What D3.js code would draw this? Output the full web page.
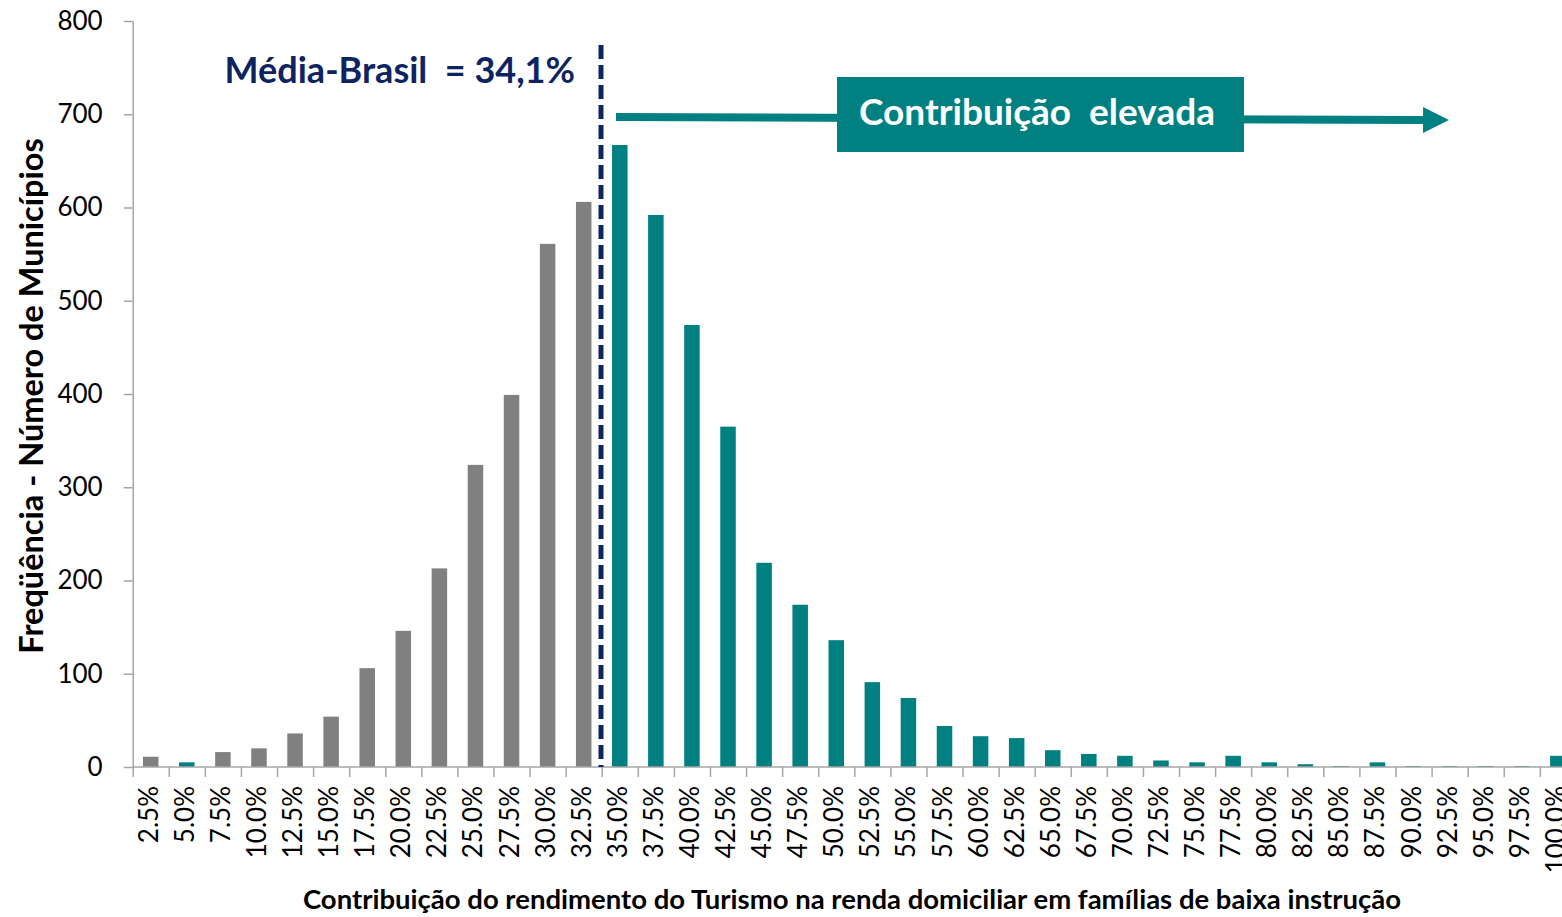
<!doctype html>
<html>
<head>
<meta charset="utf-8">
<title>Contribuição do Turismo</title>
<script src="https://d3js.org/d3.v7.min.js"></script>
<style>
  body { margin: 0; background: #fff; }
  svg { display: block; overflow: hidden; }
  text { font-family: Lato, "Noto Sans", sans-serif; }
</style>
</head>
<body>
<script>
// faixas (categorias do eixo x)
var categorias = ["2.5%","5.0%","7.5%","10.0%","12.5%","15.0%","17.5%","20.0%","22.5%","25.0%",
  "27.5%","30.0%","32.5%","35.0%","37.5%","40.0%","42.5%","45.0%","47.5%","50.0%",
  "52.5%","55.0%","57.5%","60.0%","62.5%","65.0%","67.5%","70.0%","72.5%","75.0%",
  "77.5%","80.0%","82.5%","85.0%","87.5%","90.0%","92.5%","95.0%","97.5%","100.0%"];
// número de municípios por faixa
var frequencia = [11, 5, 16, 20, 36, 54, 106, 146, 213, 324,
  399, 561, 606, 667, 592, 474, 365, 219, 174, 136,
  91, 74, 44, 33, 31, 18, 14, 12, 7, 5,
  12, 5, 3, 1, 5, 1, 1, 1, 1, 12];
// faixas destacadas (cor verde-azulada)
var destacadas = ["5.0%"].concat(categorias.slice(13));
var yTicks = [0, 100, 200, 300, 400, 500, 600, 700, 800];
var mediaBrasil = "Média-Brasil  = 34,1%";
var rotuloCaixa = "Contribuição  elevada";
var tituloX = "Contribuição do rendimento do Turismo na renda domiciliar em famílias de baixa instrução";
var tituloY = "Freqüência - Número de Municípios";

var width = 1562, height = 917;
var x0 = 132.7, step = 36.08, x1 = x0 + step * categorias.length;
var yTop = 21, yBase = 767;

var cinza = "#808080", teal = "#008080", navy = "#0e2461", eixo = "#a6a6a6";

var svg = d3.select("body").append("svg")
    .attr("width", width)
    .attr("height", height);

var x = d3.scaleBand().domain(categorias).range([x0, x1])
    .paddingInner(0.57).paddingOuter(0.285);
var xb = d3.scaleLinear().domain([0, categorias.length]).range([x0, x1]);
var y = d3.scaleLinear().domain([0, 800]).range([yBase, yTop]);

// barras
svg.append("g").selectAll("rect")
    .data(categorias)
    .enter().append("rect")
    .attr("x", function(d){ return x(d); })
    .attr("width", x.bandwidth())
    .attr("y", function(d, i){ return y(frequencia[i]); })
    .attr("height", function(d, i){ return yBase - y(frequencia[i]); })
    .style("fill", function(d){ return destacadas.indexOf(d) >= 0 ? teal : cinza; });

// eixo y
var gy = svg.append("g")
    .attr("transform", "translate(" + x0 + ",0)")
    .call(d3.axisLeft(y).tickValues(yTicks).tickSize(9).tickSizeOuter(0).tickPadding(21));
gy.selectAll("text").style("font-size", "26px").style("fill", "#000");

// eixo x: marcas nos limites das faixas
var gx = svg.append("g")
    .attr("transform", "translate(0," + yBase + ")")
    .call(d3.axisBottom(xb).tickValues(d3.range(0, categorias.length + 1))
      .tickSize(10).tickSizeOuter(0).tickFormat(""));
gx.select(".domain").attr("d", "M" + x0 + ",0H" + x1);

svg.selectAll(".domain, .tick line").style("stroke", eixo).style("stroke-width", 1.5);

// rótulos do eixo x
svg.append("g").selectAll("text")
    .data(categorias)
    .enter().append("text")
    .attr("transform", function(d){
      return "translate(" + (x(d) + x.bandwidth() / 2 + 7) + ",786) rotate(-90)";
    })
    .style("text-anchor", "end")
    .style("font-size", "26px")
    .text(function(d){ return d; });

// títulos
svg.append("text")
    .attr("x", 852).attr("y", 909)
    .style("text-anchor", "middle")
    .style("font-weight", "bold")
    .style("font-size", "27.5px")
    .text(tituloX);

svg.append("text")
    .attr("transform", "translate(43,396) rotate(-90)")
    .style("text-anchor", "middle")
    .style("font-weight", "bold")
    .style("font-size", "32.5px")
    .text(tituloY);

// linha da média
svg.append("line")
    .attr("x1", 601).attr("x2", 601)
    .attr("y1", 45).attr("y2", yBase)
    .style("stroke", navy).style("stroke-width", 5)
    .style("stroke-dasharray", "14,6");

svg.append("text")
    .attr("x", 575).attr("y", 83)
    .style("text-anchor", "end")
    .style("font-weight", "bold")
    .style("font-size", "36px")
    .style("fill", navy)
    .style("white-space", "pre")
    .text(mediaBrasil);

// seta "Contribuição elevada"
svg.append("defs").append("marker")
    .attr("id", "seta")
    .attr("viewBox", "0 0 10 10")
    .attr("refX", 0).attr("refY", 5)
    .attr("markerUnits", "userSpaceOnUse")
    .attr("markerWidth", 26).attr("markerHeight", 26)
    .attr("orient", "auto")
  .append("path")
    .attr("d", "M0,0L10,5L0,10Z")
    .style("fill", teal);

svg.append("line")
    .attr("x1", 616).attr("y1", 117)
    .attr("x2", 1423).attr("y2", 120)
    .style("stroke", teal).style("stroke-width", 8)
    .attr("marker-end", "url(#seta)");

svg.append("rect")
    .attr("x", 837).attr("y", 77)
    .attr("width", 407).attr("height", 75)
    .style("fill", teal);

svg.append("text")
    .attr("x", 1037).attr("y", 125)
    .style("text-anchor", "middle")
    .style("font-weight", "bold")
    .style("font-size", "37px")
    .style("fill", "#fff")
    .style("white-space", "pre")
    .text(rotuloCaixa);
</script>
</body>
</html>
